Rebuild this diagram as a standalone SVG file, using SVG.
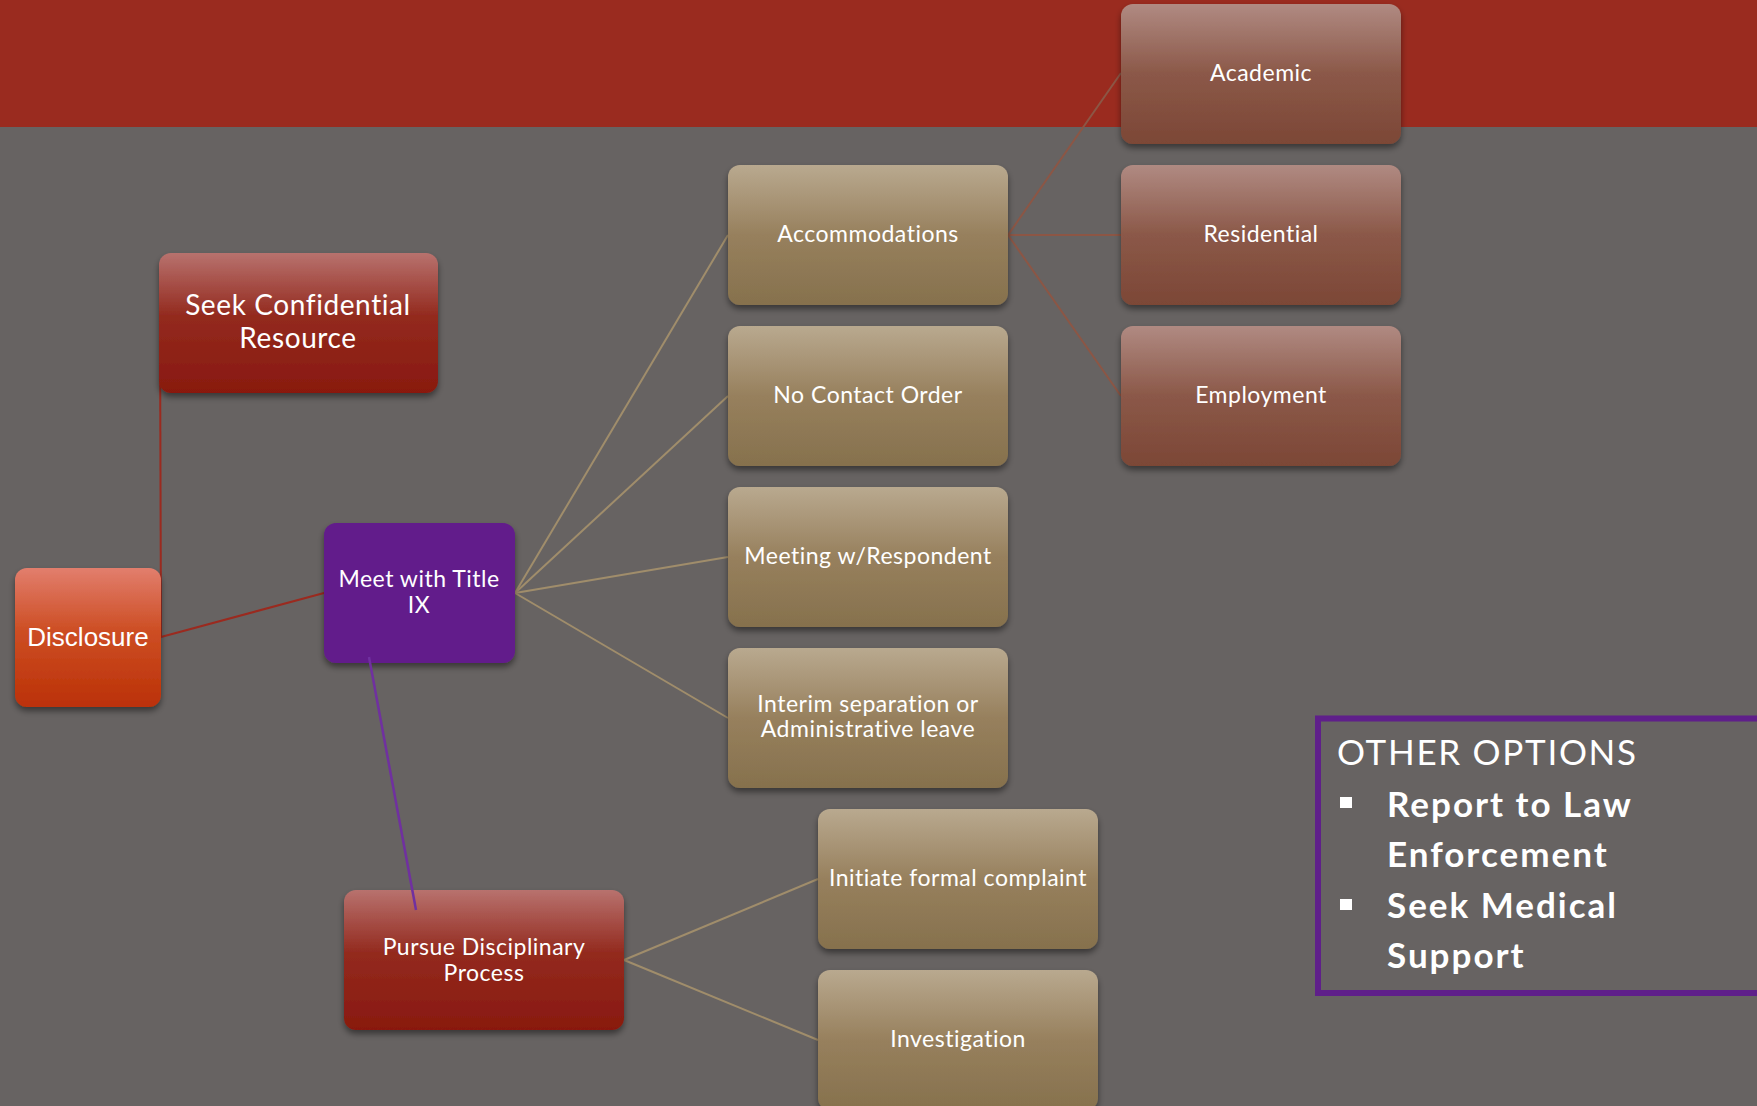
<svg xmlns="http://www.w3.org/2000/svg" width="1757" height="1106" viewBox="0 0 1757 1106">
<defs>
<linearGradient id="gRed" x1="0" y1="0" x2="0" y2="1">
<stop offset="0" stop-color="#b8726e"/><stop offset="0.45" stop-color="#932a1e"/><stop offset="1" stop-color="#89190f"/>
</linearGradient>
<linearGradient id="gOrange" x1="0" y1="0" x2="0" y2="1">
<stop offset="0" stop-color="#e27e6d"/><stop offset="0.45" stop-color="#cd4e24"/><stop offset="1" stop-color="#bb3107"/>
</linearGradient>
<linearGradient id="gTan" x1="0" y1="0" x2="0" y2="1">
<stop offset="0" stop-color="#b9a98f"/><stop offset="0.5" stop-color="#97805d"/><stop offset="1" stop-color="#86714d"/>
</linearGradient>
<linearGradient id="gBrown" x1="0" y1="0" x2="0" y2="1">
<stop offset="0" stop-color="#b08a82"/><stop offset="0.5" stop-color="#8b5848"/><stop offset="1" stop-color="#7c4736"/>
</linearGradient>
<filter id="sh" x="-10%" y="-10%" width="120%" height="130%">
<feDropShadow dx="0" dy="4" stdDeviation="3" flood-color="#000" flood-opacity="0.45"/>
</filter>
<style>
.box{filter:url(#sh)}
.t{font-family:Lato,"Open Sans",sans-serif;font-size:23px;letter-spacing:0.5px;fill:#fff;text-anchor:middle}
.big{font-size:28px;letter-spacing:0.6px}
.c-red{stroke:#9b2a1f;stroke-width:2;fill:none}
.c-tan{stroke:#a08d6b;stroke-width:2;fill:none}
.c-brn{stroke:#8c5645;stroke-width:2;fill:none}
.c-pur{stroke:#7030a0;stroke-width:2.5;fill:none}
.opt{font-family:Lato,"Open Sans",sans-serif;fill:#fff;font-size:35px;letter-spacing:1.7px}
.ob{font-weight:bold;letter-spacing:2px}
</style>
</defs>
<rect x="0" y="0" width="1757" height="1106" fill="#676362"/>
<rect x="0" y="0" width="1757" height="127" fill="#9a2b1f"/>

<g id="connectors">
<line class="c-red" x1="160" y1="323" x2="161" y2="637"/>
<line class="c-red" x1="161" y1="637" x2="324" y2="593"/>
<line class="c-tan" x1="515" y1="593" x2="728" y2="235"/>
<line class="c-tan" x1="515" y1="593" x2="728" y2="396"/>
<line class="c-tan" x1="515" y1="593" x2="728" y2="557"/>
<line class="c-tan" x1="515" y1="593" x2="728" y2="718"/>
<line class="c-brn" x1="1008" y1="235" x2="1121" y2="73"/>
<line class="c-brn" x1="1008" y1="235" x2="1121" y2="235"/>
<line class="c-brn" x1="1008" y1="235" x2="1121" y2="396"/>
<line class="c-tan" x1="624" y1="960" x2="818" y2="879"/>
<line class="c-tan" x1="624" y1="960" x2="818" y2="1040"/>
</g>

<g id="n-seek"><rect class="box" x="159" y="253" width="279" height="140" rx="12" fill="url(#gRed)"/>
<text class="t big" x="298" y="315">Seek Confidential</text><text class="t big" x="298" y="348">Resource</text></g>

<g id="n-disclosure"><rect class="box" x="15" y="568" width="146" height="139" rx="12" fill="url(#gOrange)"/>
<text x="88" y="646" style="font-family:'Liberation Sans',Arial,sans-serif;font-size:26px;fill:#fff;text-anchor:middle">Disclosure</text></g>

<g id="n-meet"><rect class="box" x="324" y="523" width="191" height="140" rx="12" fill="#621c8b"/>
<text class="t" x="419" y="587">Meet with Title</text><text class="t" x="419" y="613">IX</text></g>

<g id="n-pursue"><rect class="box" x="344" y="890" width="280" height="140" rx="12" fill="url(#gRed)"/>
<text class="t" x="484" y="955">Pursue Disciplinary</text><text class="t" x="484" y="981">Process</text></g>

<line class="c-pur" x1="369" y1="657" x2="416" y2="910"/>

<g id="n-accom"><rect class="box" x="728" y="165" width="280" height="140" rx="12" fill="url(#gTan)"/>
<text class="t" x="868" y="242">Accommodations</text></g>
<g id="n-nocontact"><rect class="box" x="728" y="326" width="280" height="140" rx="12" fill="url(#gTan)"/>
<text class="t" x="868" y="403">No Contact Order</text></g>
<g id="n-meeting"><rect class="box" x="728" y="487" width="280" height="140" rx="12" fill="url(#gTan)"/>
<text class="t" x="868" y="564">Meeting w/Respondent</text></g>
<g id="n-interim"><rect class="box" x="728" y="648" width="280" height="140" rx="12" fill="url(#gTan)"/>
<text class="t" x="868" y="712">Interim separation or</text><text class="t" x="868" y="737">Administrative leave</text></g>
<g id="n-initiate"><rect class="box" x="818" y="809" width="280" height="140" rx="12" fill="url(#gTan)"/>
<text class="t" x="958" y="886">Initiate formal complaint</text></g>
<g id="n-investigation"><rect class="box" x="818" y="970" width="280" height="140" rx="12" fill="url(#gTan)"/>
<text class="t" x="958" y="1047">Investigation</text></g>

<g id="n-academic"><rect class="box" x="1121" y="4" width="280" height="140" rx="12" fill="url(#gBrown)"/>
<text class="t" x="1261" y="81">Academic</text></g>
<g id="n-residential"><rect class="box" x="1121" y="165" width="280" height="140" rx="12" fill="url(#gBrown)"/>
<text class="t" x="1261" y="242">Residential</text></g>
<g id="n-employment"><rect class="box" x="1121" y="326" width="280" height="140" rx="12" fill="url(#gBrown)"/>
<text class="t" x="1261" y="403">Employment</text></g>

<g id="other-options">
<rect x="1318" y="718.5" width="460" height="274.5" fill="none" stroke="#5f1f8a" stroke-width="6"/>
<text class="opt" x="1337" y="765">OTHER OPTIONS</text>
<rect x="1340" y="797" width="12" height="11" fill="#fff"/>
<rect x="1340" y="899" width="12" height="11" fill="#fff"/>
<text class="opt ob" x="1387" y="817">Report to Law</text>
<text class="opt ob" x="1387" y="867">Enforcement</text>
<text class="opt ob" x="1387" y="918">Seek Medical</text>
<text class="opt ob" x="1387" y="968">Support</text>
</g>
</svg>
